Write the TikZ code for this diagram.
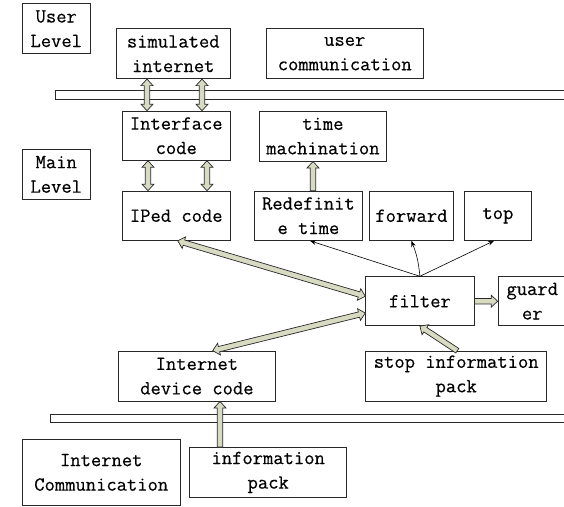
\documentclass[tikz,border=0pt]{standalone}
\usepackage{fontspec}
\usetikzlibrary{calc,arrows.meta}
\newfontfamily\boxfont[FakeBold=0.4]{Latin Modern Mono}
\definecolor{fatfill}{RGB}{216,218,194}
\definecolor{edge}{RGB}{40,40,40}
\tikzset{
  box/.style={draw=edge, line width=0.8pt, inner sep=0pt, align=center, anchor=north west,
    font=\boxfont\fontsize{20}{24.5}\selectfont},
  bar/.style={draw=edge, line width=0.8pt, fill=white},
  fat/.style={draw=edge, line width=0.7pt, fill=fatfill, line join=miter},
  thinarrow/.style={draw=black, line width=0.6pt, -{Stealth[length=6pt,width=4.5pt]}}
}
% fat double-headed arrow from #1 to #2
\newcommand\fatdbl[2]{%
  \path[fat] let \p1=(#1), \p2=(#2), \n1={atan2(\y2-\y1,\x2-\x1)}, \n2={veclen(\x2-\x1,\y2-\y1)} in
    [shift={(\p1)}, rotate=\n1]
    (0,0) -- (6.5,6) -- (6.5,2.7) -- (\n2-6.5,2.7) -- (\n2-6.5,6) -- (\n2,0)
    -- (\n2-6.5,-6) -- (\n2-6.5,-2.7) -- (6.5,-2.7) -- (6.5,-6) -- cycle;}
% fat single-headed arrow from #1 to #2
\newcommand\fatsgl[2]{%
  \path[fat] let \p1=(#1), \p2=(#2), \n1={atan2(\y2-\y1,\x2-\x1)}, \n2={veclen(\x2-\x1,\y2-\y1)} in
    [shift={(\p1)}, rotate=\n1]
    (0,2.7) -- (\n2-6.5,2.7) -- (\n2-6.5,6) -- (\n2,0)
    -- (\n2-6.5,-6) -- (\n2-6.5,-2.7) -- (0,-2.7) -- cycle;}
\begin{document}
\begin{tikzpicture}[x=1pt,y=-1pt]
\useasboundingbox (0,0) rectangle (564,506);
\fill[white] (0,0) rectangle (564,506);

% bars
\path[bar] (55.7,90.7) rectangle (575,99);
\path[bar] (50.7,414) rectangle (575,422);

% boxes
\node[box, minimum width=68.3, minimum height=50] (ul) at (21.7,3.3) {User\\Level};
\node[box, minimum width=114.3, minimum height=50] (sim) at (115.7,28.3) {simulated\\internet};
\node[box, minimum width=157.3, minimum height=50] (uc) at (265.7,28.3) {user\\communication};
\node[box, minimum width=108.3, minimum height=49.3] (inter) at (121.7,110.7) {Interface\\code};
\node[box, minimum width=127, minimum height=50] (tm) at (259,110.7) {time\\machination};
\node[box, minimum width=68.3, minimum height=50] (ml) at (21.7,149) {Main\\Level};
\node[box, minimum width=108.3, minimum height=49.3] (iped) at (121.7,190.7) {IPed code};
\node[box, minimum width=108, minimum height=49.3] (redef) at (254,190.7) {Redefinit\\e time};
\node[box, minimum width=84, minimum height=49.3] (fwd) at (369,190.7) {forward};
\node[box, minimum width=67, minimum height=49.3] (top) at (464,190.7) {top};
\node[box, minimum width=108.4, minimum height=49] (filter) at (365.3,276.3) {filter};
\node[box, minimum width=68.3, minimum height=49] (guard) at (497.7,276.3) {guard\\er};
\node[box, minimum width=157.6, minimum height=50] (dev) at (117.7,350.7) {Internet\\device code};
\node[box, minimum width=181, minimum height=50] (stop) at (365.3,350.7) {stop information\\pack};
\node[box, minimum width=158.3, minimum height=66.6] (ic) at (21.7,438.7) {Internet\\Communication};
\node[box, minimum width=157, minimum height=50] (info) at (189.3,447) {information\\pack};

% anchor points for fat connectors
\coordinate (a1) at ([xshift=31.3pt]sim.south west);
\coordinate (a2) at ([xshift=86.3pt]sim.south west);
\coordinate (b1) at ([xshift=26.3pt]inter.south west);
\coordinate (b2) at ([xshift=85.3pt]inter.south west);
\coordinate (r1) at ([xshift=59pt]redef.north west);
\coordinate (p1) at ([xshift=56pt]iped.south west);
\coordinate (f1) at ([yshift=-20pt]filter.north west);
\coordinate (d1) at ([xshift=95pt]dev.north west);
\coordinate (f2) at ([yshift=-36.7pt]filter.north west);
\coordinate (s1) at ([xshift=92pt]stop.north west);
\coordinate (i1) at ([xshift=30.7pt]info.north west);

\fatdbl{a1}{a1 |- inter.north}
\fatdbl{a2}{a2 |- inter.north}
\fatdbl{b1}{b1 |- iped.north}
\fatdbl{b2}{b2 |- iped.north}
\fatsgl{r1}{r1 |- tm.south}
\fatdbl{p1}{f1}
\fatdbl{d1}{f2}
\fatsgl{filter.east}{guard.west}
\fatsgl{s1}{filter.south}
\fatsgl{i1}{i1 |- dev.south}

% thin connectors
\draw[thinarrow] (filter.north) -- ([xshift=56pt]redef.south west);
\draw[thinarrow] (filter.north) to[bend right=8] (fwd.south);
\draw[thinarrow] (filter.north) -- ([xshift=30pt]top.south west);
\end{tikzpicture}
\end{document}
